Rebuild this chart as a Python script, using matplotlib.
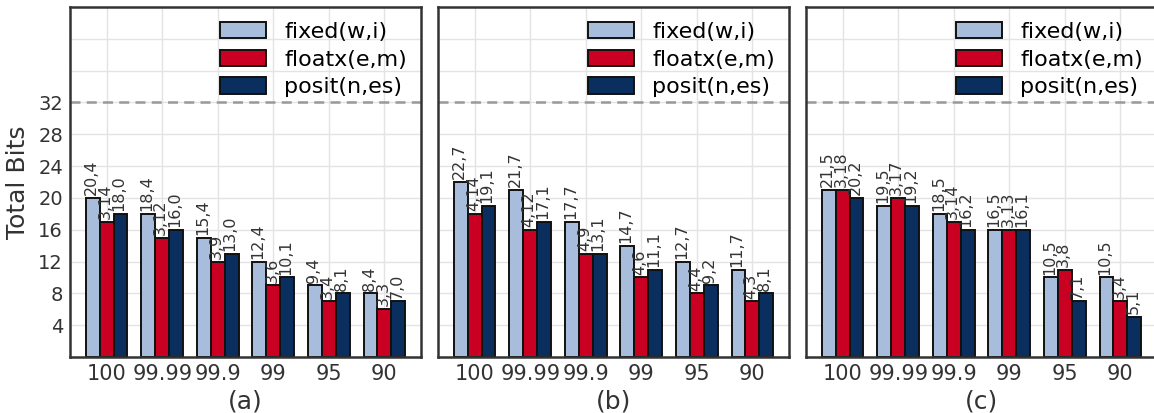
import matplotlib
matplotlib.use('Agg')
import matplotlib.pyplot as plt
import numpy as np

categories = ['100', '99.99', '99.9', '99', '95', '90']
series_names = ['fixed(w,i)', 'floatx(e,m)', 'posit(n,es)']
colors = ['#a7bddb', '#c90022', '#0a2e5e']

# panel (a)
fixed_a = [20, 18, 15, 12, 9, 8]
floatx_a = [17, 15, 12, 9, 7, 6]
posit_a = [18, 16, 13, 10, 8, 7]
fixed_a_lbl = ['20,4', '18,4', '15,4', '12,4', '9,4', '8,4']
floatx_a_lbl = ['3,14', '3,12', '3,9', '3,6', '3,4', '3,3']
posit_a_lbl = ['18,0', '16,0', '13,0', '10,1', '8,1', '7,0']

# panel (b)
fixed_b = [22, 21, 17, 14, 12, 11]
floatx_b = [18, 16, 13, 10, 8, 7]
posit_b = [19, 17, 13, 11, 9, 8]
fixed_b_lbl = ['22,7', '21,7', '17,7', '14,7', '12,7', '11,7']
floatx_b_lbl = ['4,14', '4,12', '4,9', '4,6', '4,4', '4,3']
posit_b_lbl = ['19,1', '17,1', '13,1', '11,1', '9,2', '8,1']

# panel (c)
fixed_c = [21, 19, 18, 16, 10, 10]
floatx_c = [21, 20, 17, 16, 11, 7]
posit_c = [20, 19, 16, 16, 7, 5]
fixed_c_lbl = ['21,5', '19,5', '18,5', '16,5', '10,5', '10,5']
floatx_c_lbl = ['3,18', '3,17', '3,14', '3,13', '3,8', '3,4']
posit_c_lbl = ['20,2', '19,2', '16,2', '16,1', '7,1', '5,1']

panels = [
    ('(a)', [fixed_a, floatx_a, posit_a], [fixed_a_lbl, floatx_a_lbl, posit_a_lbl]),
    ('(b)', [fixed_b, floatx_b, posit_b], [fixed_b_lbl, floatx_b_lbl, posit_b_lbl]),
    ('(c)', [fixed_c, floatx_c, posit_c], [fixed_c_lbl, floatx_c_lbl, posit_c_lbl]),
]

W, H = 1154, 413
fig = plt.figure(figsize=(W / 100, H / 100), dpi=100)
lefts = [70, 438, 806]
axw = 351
bottom, top = 357, 7
x = np.arange(len(categories))
bw = 0.25

for i, (title, vals, lbls) in enumerate(panels):
    ax = fig.add_axes([lefts[i] / W, 1 - bottom / H, axw / W, (bottom - top) / H])
    ax.set_axisbelow(True)
    ax.grid(True, color='#e3e3e3', linewidth=1.0)
    for k in range(3):
        pos = x + (k - 1) * bw
        ax.bar(pos, vals[k], bw, color=colors[k], edgecolor='#111111',
               linewidth=1.4, label=series_names[k], zorder=2)
        for px, v, t in zip(pos, vals[k], lbls[k]):
            ax.annotate(t, (px, v), xytext=(-1, 2), textcoords='offset points',
                        rotation=90, ha='center', va='bottom',
                        fontsize=11.5, color='#333333')
    ax.axhline(32, color='#999999', linestyle='--', linewidth=1.8, dashes=(4, 2.5), zorder=1)
    ax.set_xlim(-0.66, 5.66)
    ax.set_ylim(0, 44)
    ax.set_xticks(x)
    ax.set_xticklabels(categories, fontsize=15, color='#333333')
    ax.set_yticks(range(4, 44, 4))
    if i == 0:
        ax.set_yticklabels([str(v) if v <= 32 else '' for v in range(4, 44, 4)],
                           fontsize=14, color='#333333')
        ax.set_ylabel('Total Bits', fontsize=18, color='#333333', labelpad=6)
    else:
        ax.set_yticklabels([])
    ax.tick_params(length=0, pad=5)
    ax.set_xlabel(title, fontsize=18, color='#333333', labelpad=4)
    for s in ax.spines.values():
        s.set_color('#333333')
        s.set_linewidth(1.8)
    ax.legend(loc='upper right', frameon=False, fontsize=16,
              handlelength=2.1, handleheight=0.75, labelspacing=0.34,
              handletextpad=0.8, borderaxespad=0.2,
              bbox_to_anchor=(0.998, 0.995))

fig.savefig('out.png', dpi=100)
